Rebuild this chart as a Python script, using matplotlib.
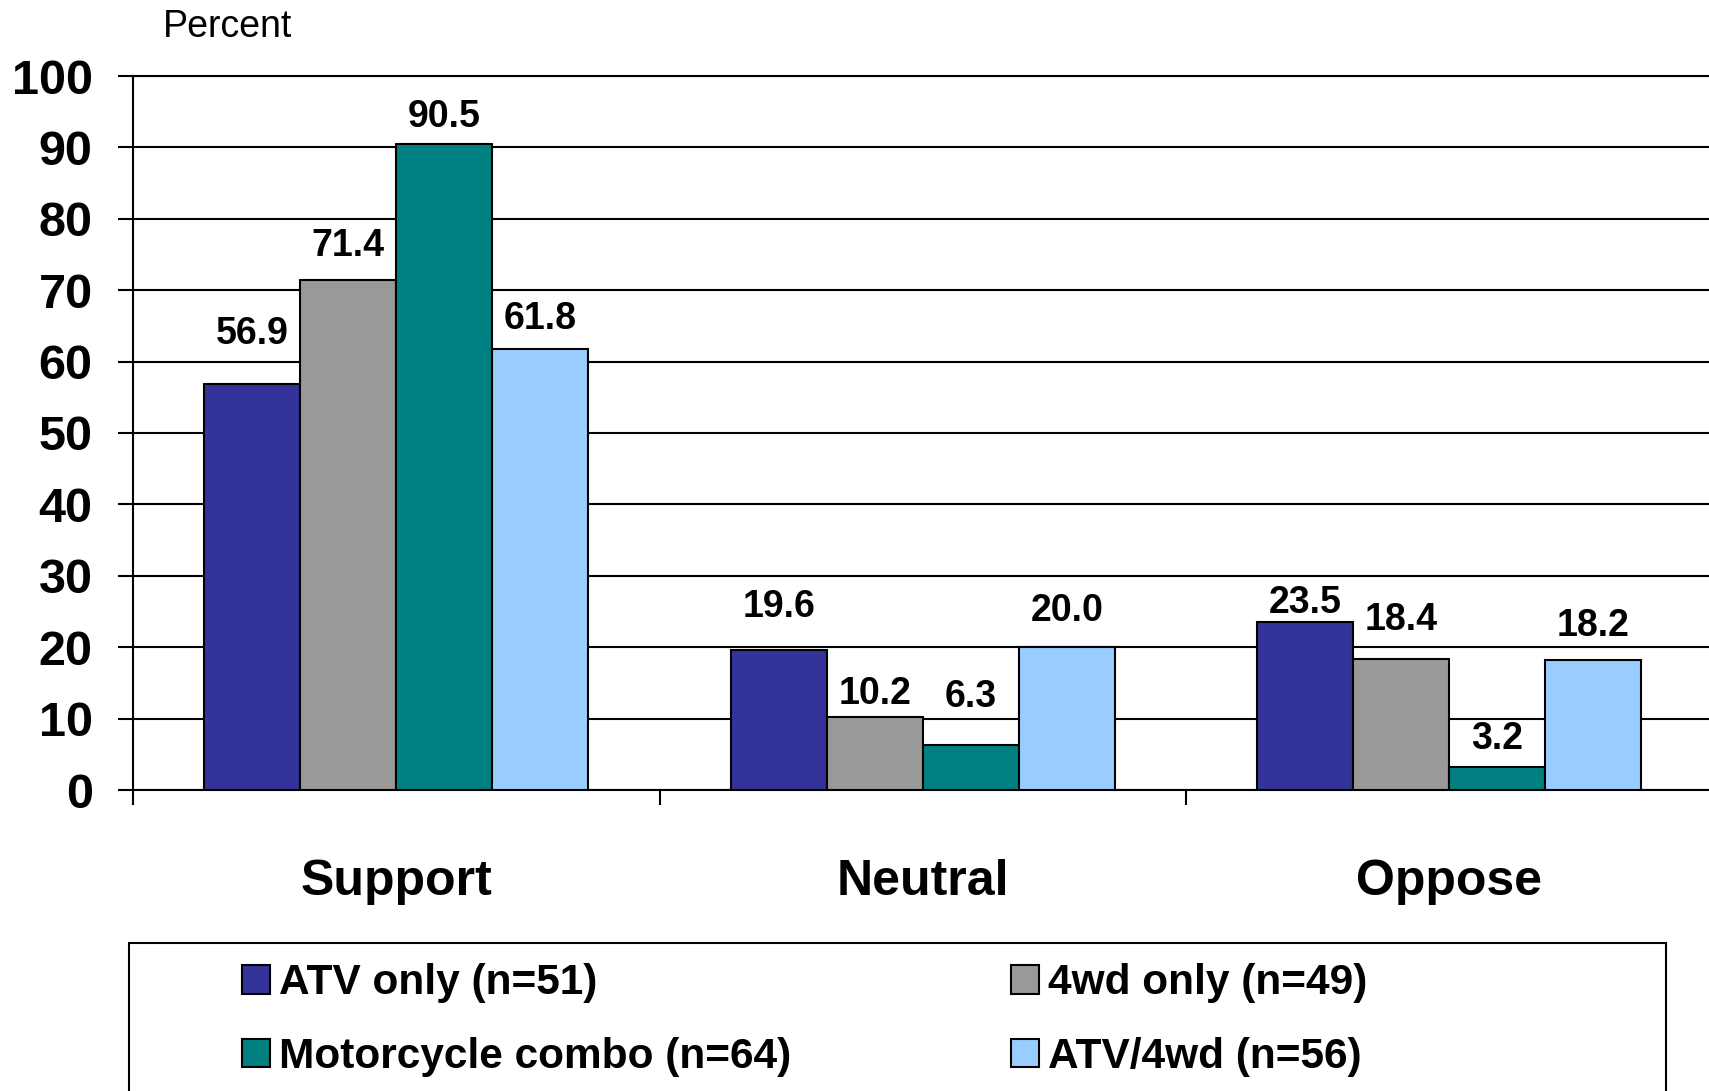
import numpy as np
import matplotlib
matplotlib.use("Agg")
import matplotlib.pyplot as plt
from matplotlib.patches import Rectangle

plt.rcParams['font.family'] = ['Liberation Sans', 'DejaVu Sans']

# data
categories = ["Support", "Neutral", "Oppose"]
series_names = ["ATV only (n=51)", "4wd only (n=49)", "Motorcycle combo (n=64)", "ATV/4wd (n=56)"]
atv_only = [56.9, 19.6, 23.5]
fourwd_only = [71.4, 10.2, 18.4]
moto_combo = [90.5, 6.3, 3.2]
atv_4wd = [61.8, 20.0, 18.2]
y_ticks = [0, 10, 20, 30, 40, 50, 60, 70, 80, 90, 100]

series = [atv_only, fourwd_only, moto_combo, atv_4wd]
colors = ["#333399", "#999999", "#008080", "#99CCFF"]
# label offset above bar top (pixels), as placed in the original
label_offsets = [[50, 43, 19], [34, 23, 39], [27, 48, 28], [30, 36, 34]]

W, H = 1709, 1091
fig = plt.figure(figsize=(W / 100, H / 100), dpi=100)
ax = fig.add_axes([133 / W, 1 - 790 / H, (1712.5 - 133) / W, (790 - 76) / H])

x = np.arange(len(categories))
bw = 0.1823
handles = []
for i, (vals, c) in enumerate(zip(series, colors)):
    xs = x + (i - 1.5) * bw
    b = ax.bar(xs, vals, width=bw, color=c, edgecolor="black", linewidth=1.5, zorder=3)
    handles.append(b)
    for xi, v, off in zip(xs, vals, label_offsets[i]):
        ax.annotate(f"{v:.1f}", (xi, v), xytext=(0, off), textcoords="offset pixels",
                    ha="center", va="center", fontsize=27, fontweight="bold", zorder=4)

ax.set_xlim(-0.5, 2.5)
ax.set_ylim(0, 100)
ax.set_yticks(y_ticks)
ax.set_yticklabels([str(t) for t in y_ticks], fontsize=35, fontweight="bold")
ax.tick_params(axis="y", direction="out", length=11, width=1.5, pad=18)
ax.yaxis.grid(True, color="black", linewidth=1.5)
ax.set_axisbelow(True)

ax.set_xticks([-0.5, 0.5, 1.5, 2.5])
ax.set_xticklabels([])
ax.tick_params(axis="x", which="major", direction="out", length=11, width=1.5)
ax.set_xticks(x, minor=True)
ax.set_xticklabels(categories, minor=True, fontsize=36, fontweight="bold")
ax.tick_params(axis="x", which="minor", length=0, pad=50)

for s in ["right"]:
    ax.spines[s].set_visible(False)
for s in ["left", "bottom", "top"]:
    ax.spines[s].set_linewidth(1.5)

fig.text(163 / W, 1 - 27 / H, "Percent", fontsize=27, ha="left", va="center")

# legend box
box = Rectangle((129 / W, -0.05), (1666 - 129) / W, 0.05 + 1 - 943 / H,
                transform=fig.transFigure, facecolor="none", edgecolor="black", linewidth=1.5)
fig.patches.append(box)

order = [0, 2, 1, 3]
fig.legend([handles[k] for k in order], [series_names[k] for k in order],
           loc="center left", bbox_to_anchor=(242 / W, 1 - 1020 / H), ncol=2, frameon=False,
           prop={"size": 30.5, "weight": "bold"}, borderpad=0, borderaxespad=0,
           handlelength=0.65, handleheight=0.65, handletextpad=0.22, columnspacing=5.2,
           labelspacing=0.79)

fig.savefig("out.png", dpi=100)
